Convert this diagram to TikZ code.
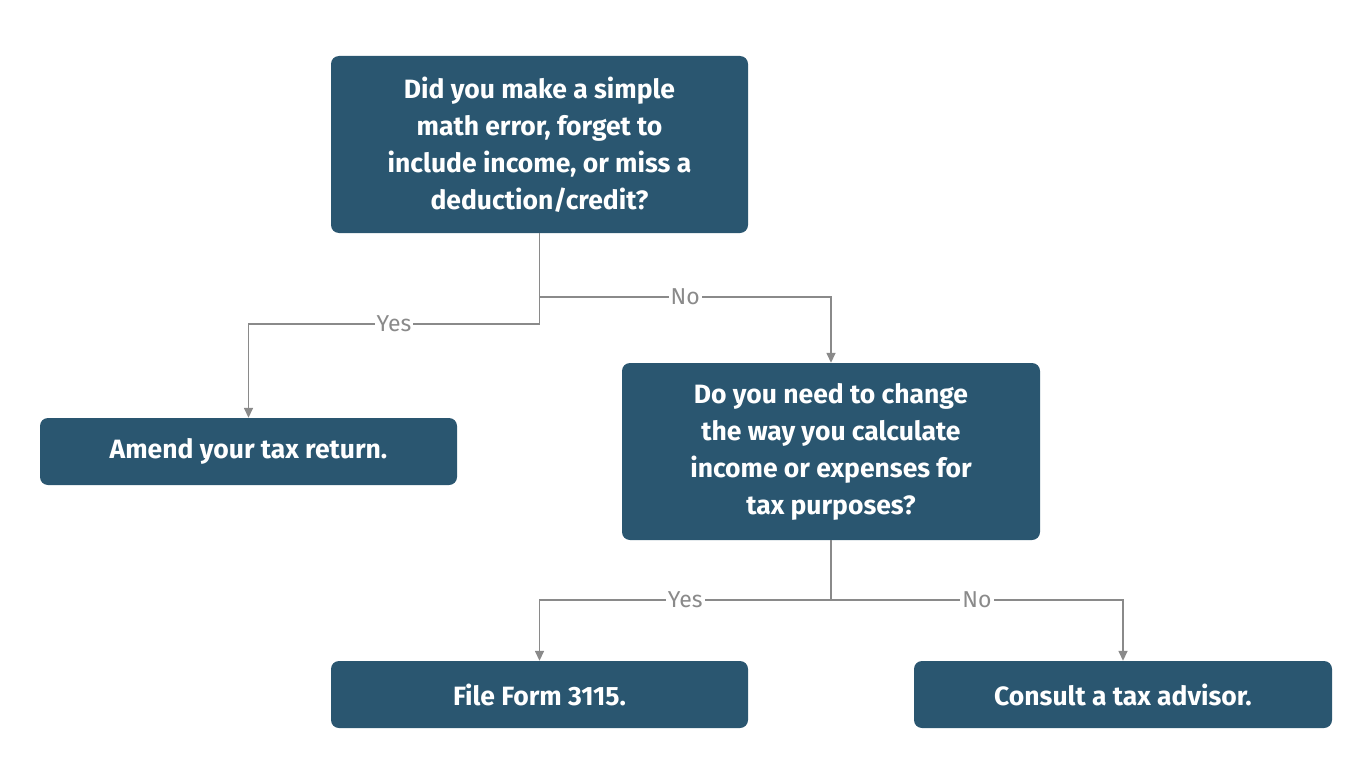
\documentclass[tikz,border=0pt]{standalone}
\usepackage{fontspec}
\setmainfont{Fira Sans}
\usetikzlibrary{arrows.meta}
\definecolor{boxc}{HTML}{2A5670}
\definecolor{linec}{HTML}{8A8A8A}
\begin{document}
\begin{tikzpicture}[x=1pt,y=-1pt,
  box/.style={fill=boxc,rounded corners=8pt,text=white,font=\fontsize{26.5}{37}\selectfont\bfseries,align=center,inner sep=0pt},
  conn/.style={draw=linec,line width=1.5pt,-{Triangle[length=10pt,width=9pt]}},
  lab/.style={fill=white,text=linec,font=\fontsize{23}{26}\selectfont,inner sep=2pt}]
\useasboundingbox (0,0) rectangle (1366,768);
\node[box,minimum width=417pt,minimum height=177pt] (q1) at (539.5,144.5) {Did you make a simple\\math error, forget to\\include income, or miss a\\deduction/credit?};
\node[box,minimum width=417pt,minimum height=67pt] (amend) at (248.5,451.5) {Amend your tax return.};
\node[box,minimum width=418pt,minimum height=177pt] (q2) at (831,451.5) {Do you need to change\\the way you calculate\\income or expenses for\\tax purposes?};
\node[box,minimum width=417pt,minimum height=67pt] (file) at (539.5,694.5) {File Form 3115.};
\node[box,minimum width=418pt,minimum height=67pt] (consult) at (1123,694.5) {Consult a tax advisor.};
\coordinate (j1) at (539.5,324);
\coordinate (j2) at (539.5,297);
\coordinate (j3) at (831,600);
\draw[draw=linec,line width=1.5pt] (q1.south) -- (j1);
\draw[conn] (j1) -- (amend.north |- j1) node[lab,pos=0.5] {Yes} -- (amend.north);
\draw[conn] (j2) -- (q2.north |- j2) node[lab,pos=0.5] {No} -- (q2.north);
\draw[draw=linec,line width=1.5pt] (q2.south) -- (j3);
\draw[conn] (j3) -- (file.north |- j3) node[lab,pos=0.5] {Yes} -- (file.north);
\draw[conn] (j3) -- (consult.north |- j3) node[lab,pos=0.5] {No} -- (consult.north);
\end{tikzpicture}
\end{document}
